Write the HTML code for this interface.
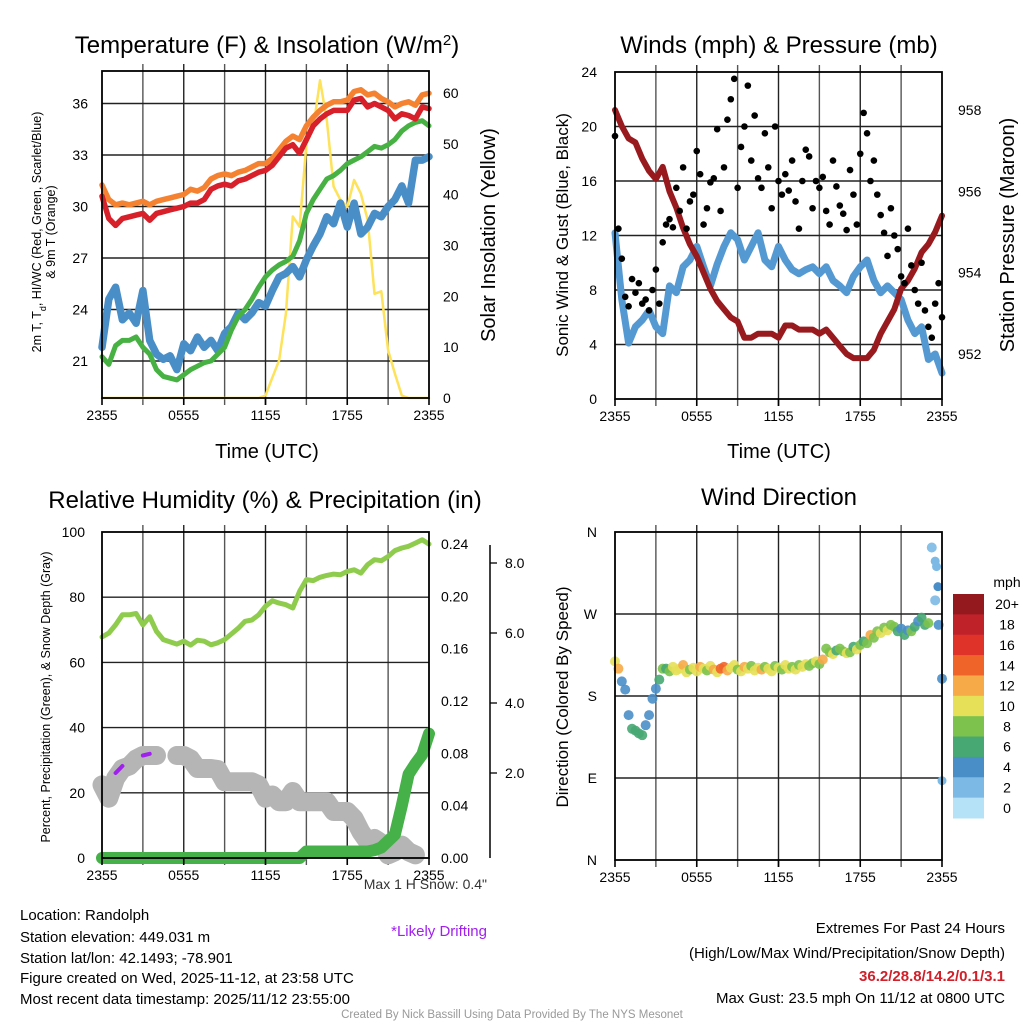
<!DOCTYPE html>
<html><head><meta charset="utf-8">
<style>
html,body{margin:0;padding:0;background:#fff;}
svg{display:block;font-family:"Liberation Sans",sans-serif;}
</style></head>
<body>
<svg id="chart" width="1024" height="1024" viewBox="0 0 1024 1024" xmlns="http://www.w3.org/2000/svg">
<rect width="1024" height="1024" fill="#fff"/>
<g id="gridlayer"></g>
<g id="datalayer"></g>
<g id="axislayer"></g>

<text x="267" y="53" font-size="24" text-anchor="middle">Temperature (F) &amp; Insolation (W/m<tspan baseline-shift="super" font-size="15">2</tspan>)</text>
<text x="779" y="53" font-size="24" text-anchor="middle">Winds (mph) &amp; Pressure (mb)</text>
<text x="265" y="508" font-size="24" text-anchor="middle">Relative Humidity (%) &amp; Precipitation (in)</text>
<text x="779" y="505" font-size="24" text-anchor="middle">Wind Direction</text>

<text x="267" y="458" font-size="20" text-anchor="middle">Time (UTC)</text>
<text x="779" y="458" font-size="20" text-anchor="middle">Time (UTC)</text>

<text transform="translate(41,232) rotate(-90)" font-size="12.5" text-anchor="middle">2m T, T<tspan baseline-shift="sub" font-size="9">d</tspan>, HI/WC (Red, Green, Scarlet/Blue)</text>
<text transform="translate(55,232) rotate(-90)" font-size="12.5" text-anchor="middle">&amp; 9m T (Orange)</text>
<text transform="translate(495,235) rotate(-90)" font-size="20" text-anchor="middle">Solar Insolation (Yellow)</text>
<text transform="translate(568,235) rotate(-90)" font-size="17" text-anchor="middle">Sonic Wind &amp; Gust (Blue, Black)</text>
<text transform="translate(1014,235) rotate(-90)" font-size="20" text-anchor="middle">Station Pressure (Maroon)</text>
<text transform="translate(50,697) rotate(-90)" font-size="12.5" text-anchor="middle">Percent, Precipitation (Green), &amp; Snow Depth (Gray)</text>
<text transform="translate(568,697) rotate(-90)" font-size="17" text-anchor="middle">Direction (Colored By Speed)</text>

<text x="487" y="889" font-size="14" text-anchor="end" fill="#333">Max 1 H Snow: 0.4"</text>
<text x="487" y="936" font-size="15" text-anchor="end" fill="#a020f0">*Likely Drifting</text>

<g font-size="15">
<text x="20" y="920">Location: Randolph</text>
<text x="20" y="942">Station elevation: 449.031 m</text>
<text x="20" y="963">Station lat/lon: 42.1493; -78.901</text>
<text x="20" y="983">Figure created on Wed, 2025-11-12, at 23:58 UTC</text>
<text x="20" y="1004">Most recent data timestamp: 2025/11/12 23:55:00</text>
</g>
<g font-size="15" text-anchor="end">
<text x="1005" y="933">Extremes For Past 24 Hours</text>
<text x="1005" y="958">(High/Low/Max Wind/Precipitation/Snow Depth)</text>
<text x="1005" y="981" font-weight="bold" fill="#d0202a">36.2/28.8/14.2/0.1/3.1</text>
<text x="1005" y="1003">Max Gust: 23.5 mph On 11/12 at 0800 UTC</text>
</g>
<text x="512" y="1018" font-size="11.5" text-anchor="middle" fill="#999">Created By Nick Bassill Using Data Provided By The NYS Mesonet</text>
</svg>

<script>
// ---- data (half-hourly, 49 points, 2355 -> 2355) ----
const xTickLabels = ["2355","0555","1155","1755","2355"];
const temp9m = [31.25,30.4,30.1,30.2,30.1,30.2,30.3,30.1,30.3,30.4,30.5,30.6,30.7,31.0,30.9,31.1,31.6,31.8,31.9,31.8,32.0,32.1,32.3,32.5,32.5,32.8,33.3,33.8,34.1,33.9,34.7,35.2,35.6,35.9,36.1,36.1,36.2,36.7,36.8,36.5,36.6,36.3,36.1,35.8,36.0,36.1,35.9,36.5,36.6];
const temp2m = [30.6,29.3,28.9,29.3,29.4,29.5,29.6,29.2,29.6,29.7,29.8,29.9,30.0,30.2,30.2,30.4,31.0,31.2,31.3,31.2,31.5,31.6,31.8,32.0,32.1,32.4,32.9,33.4,33.6,33.1,33.9,34.7,35.1,35.4,35.6,35.6,35.6,36.2,36.3,35.8,36.0,35.8,35.6,35.1,35.4,35.3,35.1,35.8,35.7];
const dewpoint = [21.25,20.8,21.9,22.2,22.2,22.4,21.8,21.4,20.5,20.1,20.0,19.9,20.2,20.5,20.7,20.9,21.0,21.4,21.8,22.8,23.6,24.0,24.6,25.3,25.9,26.3,26.6,26.8,27.1,28.0,29.6,30.4,31.0,31.6,31.8,32.1,32.5,32.7,32.9,33.2,33.5,33.4,33.6,33.9,34.4,34.7,34.9,35.0,34.7];
const windChill = [21.8,24.6,25.3,23.4,23.8,23.2,25.1,22.2,21.4,21.1,21.3,20.5,22.0,21.6,22.4,21.8,22.2,21.6,22.6,23.0,23.8,23.4,23.8,24.4,24.2,25.1,25.9,26.1,26.5,25.9,26.9,27.7,28.4,29.4,29.0,30.2,28.8,30.2,28.4,28.8,29.6,29.4,30.0,30.4,31.2,30.2,32.7,32.7,32.9];
const insolation = [0,0,0,0,0,0,0,0,0,0,0,0,0,0,0,0,0,0,0,0,0,0,0,0,0.5,4,7.4,16.6,35.7,33.7,50,53,62.5,54.7,41.6,39,37.6,42.9,40.2,35,20.5,21,9.4,4.8,0.5,0,0,0,0];
const tempTicks = [21,24,27,30,33,36];
const insolTicks = [0,10,20,30,40,50,60];

const pressure = [958.0,957.6,957.3,957.2,956.8,956.5,956.3,956.6,956.0,955.6,955.1,954.7,954.4,954.0,953.6,953.3,953.1,952.9,952.8,952.4,952.4,952.5,952.5,952.5,952.4,952.7,952.7,952.6,952.6,952.6,952.5,952.6,952.4,952.2,952.0,951.9,951.9,951.9,952.1,952.5,952.8,953.1,953.6,953.8,954.1,954.5,954.7,955.0,955.4];
const windSpeed = [12.2,7.3,4.1,5.3,5.8,6.5,5.3,4.8,8.3,7.8,9.7,10.2,11.2,9.7,8.3,9.9,11.2,12.2,11.7,10.2,11.2,12.2,10.2,9.7,11.2,10.2,9.5,9.2,9.5,9.7,9.2,9.7,8.7,8.3,7.8,9.0,9.7,10.2,8.7,7.8,8.3,7.8,7.3,5.8,4.8,5.3,2.9,3.3,1.9];
const windGust = [19.3,12.5,10.3,7.5,6.8,8.8,7.8,8.5,7.0,7.3,6.5,8.0,9.5,7.0,11.5,12.8,13.2,12.6,15.5,13.8,17.0,12.5,14.5,15.0,18.2,16.5,12.8,14.0,15.9,16.2,19.8,13.8,17.0,20.5,22.0,23.5,15.5,18.5,20.0,23.0,17.5,20.8,16.2,15.5,19.5,17.0,14.0,20.0,16.0,15.0,16.5,15.3,17.5,14.5,12.5,16.0,18.3,17.8,14.0,16.0,15.5,16.3,13.8,12.8,17.5,15.6,14.2,13.6,12.4,16.8,15.0,12.8,18.0,21.0,19.5,16.0,17.5,15.0,13.5,12.2,10.5,14.0,12.0,11.0,9.0,8.5,12.5,9.8,8.0,7.0,10.0,6.5,5.3,4.5,7.0,8.5,6.0];
const windTicks = [0,4,8,12,16,20,24];
const pressTicks = [952,954,956,958];

const relHum = [67.8,69,71.5,74.6,74.6,75,71.5,74,69.5,67,66.3,65.6,66.5,65.3,66.8,66.5,65.4,66,67,68.7,70.5,72.6,73,74.6,77.2,78.9,78.2,77.7,76.7,81.8,85.4,85.1,86.1,86.7,87.1,86.9,87.9,88.4,87.4,90,91.5,91.2,92.5,94.3,95.1,95.6,96.6,97.6,96.3];
const precip = [0,0,0,0,0,0,0,0,0,0,0,0,0,0,0,0,0,0,0,0,0,0,0,0,0,0,0,0,0,0,0.005,0.005,0.005,0.005,0.005,0.005,0.005,0.005,0.005,0.005,0.006,0.008,0.013,0.018,0.04,0.064,0.072,0.079,0.095];
const snowDepth = [1.66,1.28,1.85,2.13,2.2,2.4,2.5,2.5,2.5,null,null,2.5,2.5,2.4,2.13,2.13,2.13,2.1,1.75,1.75,1.75,1.75,1.75,1.66,1.28,1.37,1.18,1.18,1.47,1.18,1.18,1.18,1.18,1.18,0.9,0.9,0.9,0.7,0.32,0.04,0.13,0,-0.34,-0.25,-0.06,-0.25,-0.34,null,null];
const drifting = [null,null,2.0,2.2,null,null,2.5,2.55,null,null,null,null,null,null,null,null,null,null,null,null,null,null,null,null,null,null,null,null,null,null,null,null,null,null,null,null,null,null,null,null,null,null,null,null,null,null,null,null,null];
const rhTicks = [0,20,40,60,80,100];
const precipTicks = ["0.00","0.04","0.08","0.12","0.16","0.20","0.24"];
const snowTicks = ["2.0","4.0","6.0","8.0"];

// quarter-hourly wind direction (97 points) and speed
const windDir = [218,210,196,187,159,144,142,139,137,148,159,177,188,198,210,210,207,
212,208,210,214,206,209,211,207,212,210,208,213,209,206,210,212,208,211,214,209,207,212,210,213,208,211,209,212,210,207,213,211,209,214,210,212,209,
214,212,215,213,216,218,215,220,232,228,226,230,232,229,227,228,234,231,236,240,238,247,244,251,249,255,252,258,256,251,254,247,252,251,256,262,266,258,260,
343,285,258,199];
const dirSpeed = [10,12,4,4,4,6,6,6,6,4,4,4,4,6,8,6,8,
10,10,11,12,10,8,11,10,13,10,8,11,12,10,14,15,12,10,11,9,10,12,10,8,11,10,13,9,10,11,8,10,9,10,11,8,10,
8,10,11,9,8,10,8,12,9,8,10,6,8,9,10,8,6,10,8,7,8,13,9,8,10,8,11,8,9,6,5,6,4,8,7,4,6,7,8,
3,2,4,4];
const extraHour = [47.2,47.0,47.4,48.0];
const extraDir = [322,328,300,87];
const extraSpeed = [2,3,4,3];
const dirTicks = ["N","E","S","W","N"];
const speedLabels = ["0","2","4","6","8","10","12","14","16","18","20+"];
const speedColors = ["#b5e2f7","#7cb9e4","#4a8ec8","#47a873","#7cc24c","#e6e058","#f6aa48","#ef6429","#df3329","#c0222a","#94191e"];

// ---- scales ----
const NS="http://www.w3.org/2000/svg";
const grid=document.getElementById('gridlayer'), dl=document.getElementById('datalayer'), al=document.getElementById('axislayer');
function mk(tag,attrs,parent){const e=document.createElementNS(NS,tag);for(const k in attrs)e.setAttribute(k,attrs[k]);parent.appendChild(e);return e;}
const P1={x0:102,x1:429,y0:71,y1:398};
const P2={x0:615,x1:942,y0:72,y1:399};
const P3={x0:102,x1:429,y0:532,y1:858};
const P4={x0:615,x1:942,y0:532,y1:860};
const xh=(P,h)=>P.x0+h/48*(P.x1-P.x0);
const yTemp=v=>361-(v-21)*51.5/3;
const yIns=v=>398-v*305/60;
const yWind=v=>399-v*327/24;
const yPres=v=>354-(v-952)*40.67;
const yRH=v=>858-v*3.26;
const yPrec=v=>858-v*(858-544)/0.24;
const ySnow=v=>843-v*35;
const yDir=d=>860-d/360*328;

function path(arr,P,yf,step){let d="",pen=false;arr.forEach((v,i)=>{if(v===null){pen=false;return;}const x=xh(P,i*step),y=yf(v);d+=(pen?"L":"M")+x.toFixed(1)+" "+y.toFixed(1);pen=true;});return d;}

// ---- grids & frames ----
[P1,P2,P3,P4].forEach((P,pi)=>{
  for(let k=1;k<8;k++){const x=P.x0+k*(P.x1-P.x0)/8;
    const l=mk('line',{x1:x,y1:P.y0-7,x2:x,y2:P.y1+7,stroke:k%2?'#555':'#222','stroke-width':1.4},grid);
    
    }
  const r=mk('rect',{x:P.x0,y:P.y0,width:P.x1-P.x0,height:P.y1-P.y0,fill:'none',stroke:'#000','stroke-width':1.8},al);
  
  
  xTickLabels.forEach((lab,i)=>{const x=xh(P,i*12);
    const t=mk('text',{x:x,y:P.y1+22,'font-size':14,'text-anchor':'middle'},al);t.textContent=lab;
    
    
    const tk=mk('line',{x1:x,y1:P.y1,x2:x,y2:P.y1+7,stroke:'#000','stroke-width':1.6},al);
    
    });
});
function hgrid(P,y){const l=mk('line',{x1:P.x0,y1:y,x2:P.x1,y2:y,stroke:'#222','stroke-width':1.4},grid);
  
  }
function label(x,y,txt,anchor,name){const t=mk('text',{x:x,y:y,'font-size':14,'text-anchor':anchor},al);t.textContent=txt;
  
  }

tempTicks.forEach(v=>{hgrid(P1,yTemp(v));label(88,yTemp(v)+5,String(v),'end','temp-tick-label');});
insolTicks.forEach(v=>{label(443,yIns(v)+5,String(v),'start','insolation-tick-label');});
windTicks.forEach(v=>{if(v>0&&v<24)hgrid(P2,yWind(v));label(597,yWind(v)+5,String(v),'end','wind-tick-label');});
pressTicks.forEach(v=>{label(958,yPres(v)+5,String(v),'start','pressure-tick-label');});
rhTicks.forEach(v=>{if(v>0&&v<100)hgrid(P3,yRH(v));label(85,yRH(v)+5,String(v),'end','rh-tick-label');});
precipTicks.forEach((s,i)=>{label(441,yPrec(parseFloat(s))+5,s,'start','precip-tick-label');});
snowTicks.forEach(s=>{const y=ySnow(parseFloat(s));label(505,y+5,s,'start','snow-tick-label');
  const tk=mk('line',{x1:490,y1:y,x2:497,y2:y,stroke:'#000','stroke-width':1.3},al);
  
  });
const sAx=mk('line',{x1:490,y1:545,x2:490,y2:858,stroke:'#000','stroke-width':1.5},al);


dirTicks.forEach((s,i)=>{const y=yDir(i*90);if(i>0&&i<4)hgrid(P4,y);label(597,y+5,s,'end','direction-tick-label');});

// ---- panel 1 series ----
function line(d,color,w,name){const p=mk('path',{d:d,fill:'none',stroke:color,'stroke-width':w,'stroke-linejoin':'round','stroke-linecap':'round'},dl);
  
  return p;}
line(path(insolation,P1,yIns,1),'#fde25a',2.5,'insolation-line');
line(path(windChill,P1,yTemp,1),'#4a8ec8',7.5,'windchill-line');
line(path(dewpoint,P1,yTemp,1),'#47b143',5,'dewpoint-line');
line(path(temp9m,P1,yTemp,1),'#f58231',5.5,'temp-9m-line');
line(path(temp2m,P1,yTemp,1),'#d7202a',5.5,'temp-2m-line');

// ---- panel 2 ----
line(path(windSpeed,P2,yWind,1),'#5599d3',7,'wind-speed-line');
line(path(pressure,P2,yPres,1),'#991a1e',6,'pressure-line');
windGust.forEach((v,i)=>{const c=mk('circle',{cx:P2.x0+i/(windGust.length-1)*(P2.x1-P2.x0),cy:yWind(v),r:3.3,fill:'#000'},dl);
  
  });

// ---- panel 3 ----
line(path(relHum,P3,yRH,1),'#8fcc4e',5,'relative-humidity-line');
line(path(snowDepth,P3,ySnow,1),'#b5b5b5',19,'snow-depth-line');
line(path(drifting,P3,ySnow,1),'#a020f0',4,'drifting-snow-line');
line(path(precip,P3,yPrec,1),'#45b148',12,'precipitation-line');

// ---- panel 4 ----
function colorFor(s){let k=Math.floor(s/2);if(k<0)k=0;if(k>10)k=10;return speedColors[k];}
windDir.forEach((d,i)=>{const c=mk('circle',{cx:xh(P4,i/2),cy:yDir(d),r:5,fill:colorFor(dirSpeed[i]),'fill-opacity':0.9},dl);
  
  });
extraDir.forEach((d,i)=>{const c=mk('circle',{cx:xh(P4,extraHour[i]),cy:yDir(d),r:4.5,fill:colorFor(extraSpeed[i])},dl);
  
  });

// colorbar
const cbTop=594,cbH=224/11;
speedLabels.forEach((lab,i)=>{const k=10-i;const y=cbTop+i*cbH;
  const r=mk('rect',{x:953,y:y,width:31,height:cbH+0.5,fill:speedColors[k]},al);
  
  
  const t=mk('text',{x:1007,y:y+cbH/2+5,'font-size':14,'text-anchor':'middle'},al);t.textContent=speedLabels[k];
  
  });
const mph=mk('text',{x:1007,y:587,'font-size':14,'text-anchor':'middle'},al);mph.textContent='mph';


</script>
</body></html>
